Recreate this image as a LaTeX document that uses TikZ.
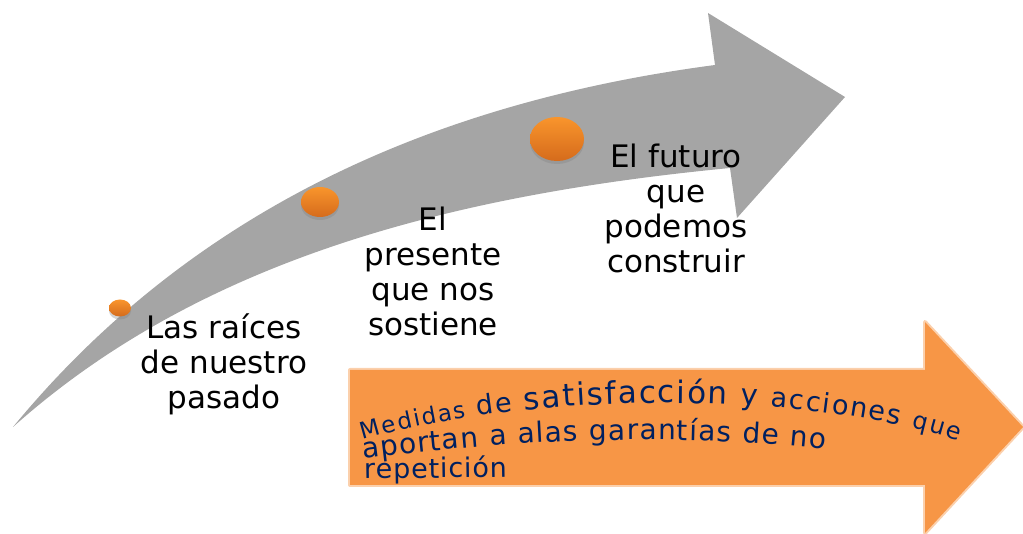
\documentclass[tikz,border=0pt]{standalone}
\usepackage{fontspec}
\setmainfont{DejaVu Sans}
\usetikzlibrary{shapes.geometric,shadows,decorations.text}
\definecolor{arrowGray}{HTML}{A5A5A5}
\definecolor{accentOrange}{HTML}{F79646}
\definecolor{dotTop}{HTML}{F9952C}
\definecolor{dotBottom}{HTML}{D56B1C}
\definecolor{darkNavy}{HTML}{002060}
\newcommand{\stepFont}{\fontsize{31}{35}\selectfont}
\newcommand{\waveA}{\fontsize{23}{23}\selectfont}
\newcommand{\waveB}{\fontsize{27}{27}\selectfont}
\newcommand{\waveC}{\fontsize{31}{31}\selectfont}
\newcommand{\waveD}{\fontsize{29}{29}\selectfont}
\newcommand{\waveE}{\fontsize{24}{24}\selectfont}
\newcommand{\waveF}{\fontsize{28}{28}\selectfont}
\newcommand{\waveG}{\fontsize{27}{27}\selectfont}

\begin{document}
\begin{tikzpicture}[x=1pt, y=1pt]
  \tikzset{
    stepDot/.style={ellipse, inner sep=0pt, top color=dotTop, bottom color=dotBottom,
      drop shadow={shadow xshift=0pt, shadow yshift=-3pt, opacity=0.35}},
    stepLabel/.style={align=center, font=\stepFont, inner sep=0pt},
    waveLine/.style={decorate, decoration={text along path, text align={fit to path},
      text color=darkNavy, text={#1}}}
  }
  \useasboundingbox (0,0) rectangle (1023,533);
  % gray curved arrow
  \fill[arrowGray] (13,106) .. controls (200,333) and (450,433) .. (715,468)
    -- (708,520) -- (845,436) -- (737,315) -- (730,365)
    .. controls (450,338) and (200,273) .. (13,106) -- cycle;
  % steps
  \node[stepDot, minimum width=22, minimum height=17] (pastDot) at (120,225) {};
  \node[stepDot, minimum width=38, minimum height=30] (presentDot) at (320,331) {};
  \node[stepDot, minimum width=54, minimum height=44] (futureDot) at (557,394) {};
  \node[stepLabel] (pastText) at (224,169) {Las raíces\\de nuestro\\pasado};
  \node[stepLabel] (presentText) at (433,262) {El\\presente\\que nos\\sostiene};
  \node[stepLabel] (futureText) at (676,325) {El futuro\\que\\podemos\\construir};
  % orange arrow
  \path[fill=accentOrange, draw=accentOrange, draw opacity=0.45, line width=4pt, line join=round]
    (350,163) -- (925,163) -- (925,211) -- (1023,106) -- (925,0) -- (925,48)
    -- (350,48) -- cycle;
  \path[waveLine={|\waveA|Medidas |\waveB|de |\waveC|satisfacción |\waveD|y |\waveB|acciones |\waveE|que}]
    (363,93) .. controls (520,140) and (800,145) .. (958,92);
  \path[waveLine={|\waveF|aportan a alas garantías de no}]
    (363,74) .. controls (480,89) and (650,103) .. (825,84);
  \path[waveLine={|\waveG|repetición}]
    (364,54) -- (507,56);
\end{tikzpicture}
\end{document}
